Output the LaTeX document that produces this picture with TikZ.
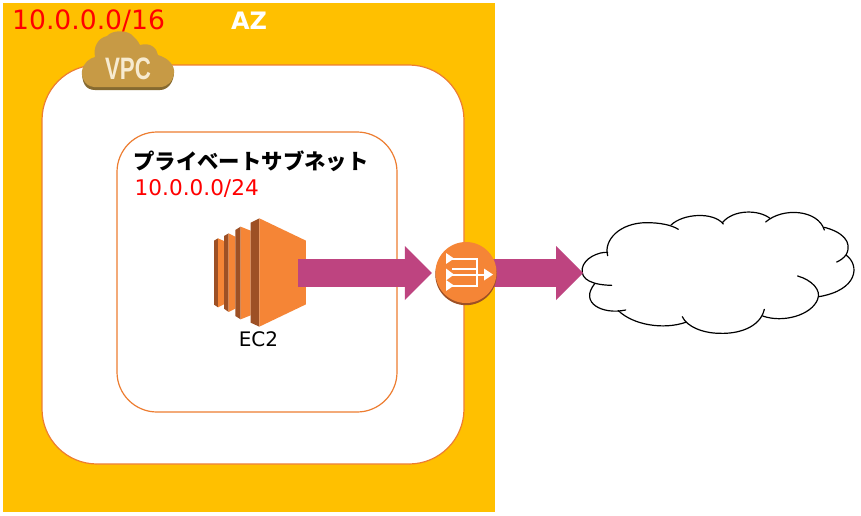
\documentclass[tikz,border=0pt]{standalone}
\usepackage{fontspec}
\setmainfont{DejaVu Sans}
\newfontfamily\cjk{Noto Sans CJK JP}
\newfontfamily\narrowbold{Liberation Sans}[BoldFont={Liberation Sans Bold}]
\usetikzlibrary{arrows.meta}
\definecolor{azfill}{HTML}{FFC000}
\definecolor{edgeorange}{HTML}{ED7D31}
\definecolor{iconorange}{HTML}{F58536}
\definecolor{icondark}{HTML}{9D5025}
\definecolor{flowpink}{HTML}{BE4480}
\definecolor{vpctan}{HTML}{C79A45}
\definecolor{vpcdark}{HTML}{866A30}
\definecolor{vpctext}{HTML}{F7EBD0}
\definecolor{addrred}{HTML}{FF0000}
\tikzset{
  x=1pt,y=-1pt,
  azbox/.style={fill=azfill,draw=none},
  whitebox/.style={fill=white,draw=edgeorange,line width=1.2pt,rounded corners=#1},
  flow/.style={draw=flowpink,line width=28pt,-{Triangle[length=27pt,width=54pt,line width=0pt,fill=flowpink]}},
  anchorbox/.style={inner sep=0pt,outer sep=0pt,minimum width=#1,minimum height=40pt},
  addr/.style={text=addrred,inner sep=0pt},
  cloudline/.style={draw=black,line width=1.2pt,line cap=round},
  natline/.style={draw=white,line width=2pt},
}
\begin{document}
\begin{tikzpicture}
\useasboundingbox (0,0) rectangle (861,515);
\fill[white] (0,0) rectangle (861,515);
% boxes
\path[azbox] (3,3) rectangle (495,512);
\path[whitebox=55pt] (42,65) rectangle (464,464);
\path[whitebox=40pt] (117,132) rectangle (397,412);
% anchors
\node[anchorbox=84pt] (ec2) at (256,273) {};
\node[circle,inner sep=0pt,minimum size=62pt] (nat) at (466,273) {};
\coordinate (cloudtip) at (583,273);
% cloud fill + outline
\begin{scope}[shift={(570,200)},x=0.3333pt,y=-0.3333pt]
\fill[white] (37,210) -- (112,157) -- (230,68) -- (460,60) -- (763,85) -- (850,210) -- (747,290) -- (578,350) -- (450,400) -- (145,332) -- (60,290) -- cycle;
\draw[cloudline] (113,167) .. controls (100,120) and (150,68) .. (230,68) .. controls (270,68) and (305,75) .. (325,88);
\draw[cloudline] (303,75) .. controls (340,40) and (430,35) .. (460,72);
\draw[cloudline] (457,68) .. controls (490,28) and (565,28) .. (600,55);
\draw[cloudline] (587,66) .. controls (640,20) and (745,30) .. (763,90);
\draw[cloudline] (763,82) .. controls (815,95) and (850,125) .. (828,165) .. controls (820,175) and (810,182) .. (800,186);
\draw[cloudline] (828,165) .. controls (870,195) and (865,270) .. (747,290);
\draw[cloudline] (683,228) .. controls (725,240) and (755,270) .. (743,298) .. controls (725,345) and (640,370) .. (578,348);
\draw[cloudline] (583,328) .. controls (570,385) and (500,402) .. (450,400) .. controls (400,400) and (350,380) .. (337,350);
\draw[cloudline] (347,367) .. controls (280,390) and (190,375) .. (145,332);
\draw[cloudline] (167,330) .. controls (100,345) and (25,310) .. (75,250);
\draw[cloudline] (125,256) .. controls (70,255) and (30,240) .. (37,205) .. controls (42,175) and (85,155) .. (113,157);
\end{scope}
% connectors
\draw[flow,shorten >=3pt] (ec2.east) -- (nat.west);
\draw[flow] (nat.center) -- (cloudtip);
% EC2 icon
\begin{scope}[shift={(200,210)},x=0.3333pt,y=-0.3333pt]
\fill[icondark] (42,92) -- (54,85) -- (54,292) -- (42,284) -- cycle;
\fill[iconorange] (54,85) -- (72,93) -- (72,283) -- (54,292) -- cycle;
\fill[icondark] (72,78) -- (86,70) -- (86,306) -- (72,296) -- cycle;
\fill[iconorange] (86,70) -- (106,80) -- (106,296) -- (86,306) -- cycle;
\fill[icondark] (106,60) -- (122,50) -- (122,328) -- (106,318) -- cycle;
\fill[iconorange] (122,50) -- (152,62) -- (152,316) -- (122,328) -- cycle;
\fill[icondark] (152,38) -- (178,25) -- (178,350) -- (152,338) -- cycle;
\fill[iconorange] (178,25) -- (318,92) -- (318,283) -- (178,350) -- cycle;
\end{scope}
\fill[flowpink] (ec2.east |- 0,259) rectangle (310,287);
% NAT icon
\fill[icondark] (466,274.5) circle (30.7pt);
\fill[iconorange] (466,272.5) circle (30.5pt);
\begin{scope}[shift={(425,235)},x=1pt,y=-1pt]
\draw[natline] (27,23.5) -- (52,23.5) -- (52,50.5) -- (27,50.5);
\draw[natline] (27,33.5) -- (52,33.5);
\draw[natline] (27,39.5) -- (61,39.5);
\fill[white] (21,18) -- (29,23.5) -- (21,29) -- cycle;
\fill[white] (21,33.5) -- (29,39.5) -- (21,45.5) -- cycle;
\fill[white] (21,45) -- (29,50.5) -- (21,56) -- cycle;
\fill[white] (59,33.5) -- (68,39.5) -- (59,45.5) -- cycle;
\end{scope}
% VPC cloud
\fill[vpcdark] (95,90) .. controls (85,90) and (82,82) .. (82,72) -- (174,72) .. controls (174,82) and (168,90) .. (160,90) -- cycle;
\fill[vpctan] (94,87) .. controls (84,86) and (81,76) .. (82,71) .. controls (83,63) and (90,58) .. (95,57) .. controls (93,47) and (98,38) .. (107,36) .. controls (112,30) and (128,29) .. (134,37) .. controls (138,41) and (139,43) .. (140,45) .. controls (150,42) and (157,48) .. (158,55) .. controls (168,58) and (175,65) .. (174,73) .. controls (173,81) and (168,87) .. (160,87) -- cycle;
\node[text=vpctext,inner sep=0pt,font=\narrowbold\bfseries\fontsize{31}{31}\selectfont,xscale=0.72] (vpclabel) at (128,68.5) {VPC};
% texts
\node[addr,font=\fontsize{26.6}{27}\selectfont,anchor=base west] (vpcaddr) at (12,29) {10.0.0.0/16};
\node[text=white,inner sep=0pt,font=\bfseries\fontsize{24}{24}\selectfont] (az) at (249,21) {AZ};
\node[inner sep=0pt,font=\cjk\bfseries\fontsize{21.4}{22}\selectfont,anchor=west] (subnetname) at (133,161) {プライベートサブネット};
\node[addr,font=\fontsize{21.6}{22}\selectfont,anchor=base west] (subnetaddr) at (134.5,195) {10.0.0.0/24};
\node[inner sep=0pt,font=\fontsize{20}{20}\selectfont] (ec2label) at (258.5,339.5) {EC2};
\end{tikzpicture}
\end{document}
